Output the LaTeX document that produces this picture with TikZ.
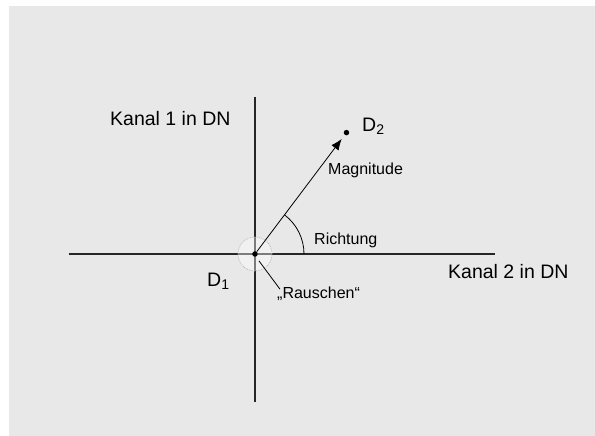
\documentclass[tikz,border=0pt]{standalone}
\usepackage{fontspec}
\setmainfont{Liberation Sans}
\usetikzlibrary{arrows.meta,positioning,calc}
\definecolor{bggray}{HTML}{E8E8E8}
\newcommand{\subidx}[1]{\raisebox{-3pt}{\fontsize{14}{15}\selectfont #1}}

\begin{document}
\begin{tikzpicture}[x=1pt,y=1pt,>=Latex,
  lbl/.style={inner sep=0pt,anchor=base west,font=\fontsize{16}{18}\selectfont},
  axlbl/.style={inner sep=0pt,anchor=base west,font=\fontsize{19.5}{22}\selectfont},
  pt/.style={circle,fill=black,inner sep=0pt,minimum size=5.5pt}]
  \useasboundingbox (-255,-182) rectangle (340,254);
  \fill[bggray] (-246,-182) rectangle (340,248);
  % axes
  \draw[line width=1.3pt,black!85] (-186,0) -- (240,0);
  \draw[line width=1.3pt,black!85] (0,157) -- (0,-148);
  % noise around D1
  \fill[white,opacity=0.4] (0,0) circle (17);
  \draw[gray!55,densely dotted,line width=0.8pt] (0,0) circle (17);
  \node[pt] (d1) at (0,0) {};
  \node[pt] (d2) at (53:152) {};
  \draw[-{Latex[length=11pt,width=9pt]},line width=0.8pt] (d1) -- ($(d2)!8pt!(d1)$);
  \draw[line width=0.8pt] (49,0) arc[start angle=0,end angle=53,radius=49];
  % labels
  \node[axlbl] (kanal1) at (-145,128) {Kanal 1 in DN};
  \node[axlbl] (kanal2) at (193,-25) {Kanal 2 in DN};
  \node[axlbl] (labd1) at (-48,-33) {D\subidx{1}};
  \node[axlbl] (labd2) at (107,122) {D\subidx{2}};
  \node[lbl] (magn) at (73,79) {Magnitude};
  \node[lbl] (richt) at (59,9) {Richtung};
  \node[lbl] (rausch) at (22,-45) {„Rauschen“};
  \coordinate (noise) at (-60:8);
  \draw[line width=0.8pt] (noise) -- ($(rausch.north west)+(3,-2)$);
\end{tikzpicture}
\end{document}
